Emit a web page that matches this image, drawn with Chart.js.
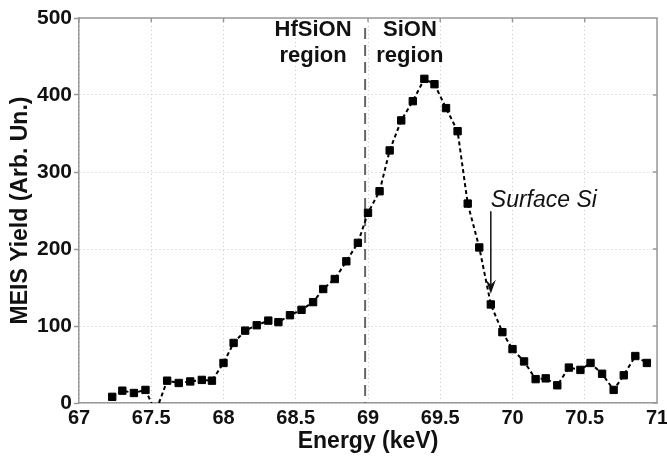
<!DOCTYPE html>
<html>
<head>
<meta charset="utf-8">
<script src="https://cdn.jsdelivr.net/npm/chart.js@4.4.1/dist/chart.umd.min.js"></script>
<style>
  html, body { margin: 0; padding: 0; background: #fff; }
</style>
</head>
<body>
<canvas id="meis" width="667" height="459"></canvas>
<script>
// MEIS energy spectrum, Si signal
const energy = [67.23, 67.30, 67.38, 67.46, 67.53, 67.61, 67.69, 67.77, 67.85, 67.92,
                68.00, 68.07, 68.15, 68.23, 68.31, 68.38, 68.46, 68.54, 68.62, 68.69,
                68.77, 68.85, 68.93, 69.00, 69.08, 69.15, 69.23, 69.31, 69.39, 69.46,
                69.54, 69.62, 69.69, 69.77, 69.85, 69.93, 70.00, 70.08, 70.16, 70.23,
                70.31, 70.39, 70.47, 70.54, 70.62, 70.70, 70.77, 70.85, 70.93];
const yieldValues = [8, 16, 13, 17, -12, 29, 26, 28, 30, 29,
                     52, 78, 94, 101, 107, 105, 114, 121, 131, 148,
                     161, 184, 208, 247, 275, 328, 367, 392, 421, 414,
                     383, 353, 259, 202, 128, 92, 70, 54, 31, 32,
                     23, 46, 43, 52, 38, 17, 36, 61, 52];
const xTicks = [67, 67.5, 68, 68.5, 69, 69.5, 70, 70.5, 71];
const yTicks = [0, 100, 200, 300, 400, 500];

const boundaryEnergy = 68.98;
const regions = [
  { x: 68.62, lines: ['HfSiON', 'region'] },
  { x: 69.29, lines: ['SiON', 'region'] }
];
const surfaceLabel = 'Surface Si';
const surfaceEnergy = 69.85;

const FONT = "'Liberation Sans', Arial, Helvetica, sans-serif";
Chart.defaults.font.family = FONT;
Chart.defaults.color = '#111';

const overlay = {
  id: 'overlay',
  beforeDatasetsDraw(chart) {
    const { ctx, chartArea: a, scales: { x } } = chart;
    const bx = x.getPixelForValue(boundaryEnergy);
    ctx.save();
    ctx.strokeStyle = '#666';
    ctx.lineWidth = 2;
    ctx.setLineDash([11, 6]);
    ctx.beginPath();
    ctx.moveTo(bx, a.top + 10);
    ctx.lineTo(bx, a.bottom);
    ctx.stroke();
    ctx.restore();
  },
  afterDraw(chart) {
    const { ctx, chartArea: a, scales: { x, y } } = chart;
    ctx.save();

    // top and right frame with small inward ticks
    ctx.strokeStyle = '#999';
    ctx.lineWidth = 1.5;
    ctx.beginPath();
    ctx.moveTo(a.left, a.top);
    ctx.lineTo(a.right, a.top);
    ctx.lineTo(a.right, a.bottom);
    xTicks.forEach(v => {
      const px = x.getPixelForValue(v);
      ctx.moveTo(px, a.top);
      ctx.lineTo(px, a.top + 4);
    });
    yTicks.forEach(v => {
      const py = y.getPixelForValue(v);
      ctx.moveTo(a.right, py);
      ctx.lineTo(a.right - 4, py);
    });
    ctx.stroke();

    // region labels either side of the interface
    ctx.fillStyle = '#111';
    ctx.font = 'bold 22px ' + FONT;
    ctx.textAlign = 'center';
    ctx.textBaseline = 'alphabetic';
    regions.forEach(r => {
      const px = x.getPixelForValue(r.x);
      ctx.fillText(r.lines[0], px, y.getPixelForValue(476));
      ctx.fillText(r.lines[1], px, y.getPixelForValue(443));
    });

    // surface Si marker
    const sx = x.getPixelForValue(surfaceEnergy);
    ctx.font = 'italic 23px ' + FONT;
    ctx.textAlign = 'left';
    ctx.fillText(surfaceLabel, sx, y.getPixelForValue(254));

    const top = y.getPixelForValue(249);
    const tip = y.getPixelForValue(142);
    ctx.strokeStyle = '#111';
    ctx.lineWidth = 1.5;
    ctx.beginPath();
    ctx.moveTo(sx, top);
    ctx.lineTo(sx, tip - 6);
    ctx.stroke();
    ctx.beginPath();
    ctx.moveTo(sx, tip);
    ctx.lineTo(sx - 5, tip - 14);
    ctx.lineTo(sx, tip - 9);
    ctx.lineTo(sx + 5, tip - 14);
    ctx.closePath();
    ctx.fill();

    ctx.restore();
  }
};

new Chart(document.getElementById('meis'), {
  type: 'line',
  data: {
    datasets: [{
      data: energy.map((e, i) => ({ x: e, y: yieldValues[i] })),
      borderColor: '#000',
      borderWidth: 2,
      borderDash: [4, 3],
      pointStyle: 'rect',
      pointRadius: 5.2,
      pointBorderWidth: 1,
      pointBackgroundColor: '#000',
      pointBorderColor: '#000',
      tension: 0
    }]
  },
  options: {
    responsive: false,
    animation: false,
    devicePixelRatio: 1,
    layout: { padding: { top: 18, right: 10, left: 0, bottom: 0 } },
    plugins: {
      legend: { display: false },
      tooltip: { enabled: false }
    },
    scales: {
      x: {
        type: 'linear',
        min: 67,
        max: 71,
        afterBuildTicks: s => { s.ticks = xTicks.map(v => ({ value: v })); },
        afterFit: s => { s.height = 56; s.paddingLeft = 0; s.paddingRight = 0; },
        ticks: {
          padding: 3,
          color: '#111',
          font: { size: 20, weight: 'bold' },
          maxRotation: 0,
          callback: v => String(v)
        },
        grid: { color: '#c8c8c8', lineWidth: 1, drawTicks: false },
        border: { color: '#999', width: 1.5, dash: [1, 3] },
        title: {
          display: true,
          text: 'Energy (keV)',
          color: '#111',
          font: { size: 23, weight: 'bold' },
          padding: { top: 0, bottom: 4 }
        }
      },
      y: {
        min: 0,
        max: 500,
        afterBuildTicks: s => { s.ticks = yTicks.map(v => ({ value: v })); },
        afterFit: s => { s.width = 79; s.paddingTop = 0; s.paddingBottom = 0; },
        ticks: {
          padding: 2,
          color: '#111',
          font: { size: 21, weight: 'bold' },
          callback: v => String(v)
        },
        grid: {
          color: '#c8c8c8',
          lineWidth: 1,
          tickLength: 5,
          tickColor: '#999',
          tickWidth: 1.5,
          tickBorderDash: []
        },
        border: { color: '#999', width: 1.5, dash: [1, 3] },
        title: {
          display: true,
          text: 'MEIS Yield (Arb. Un.)',
          color: '#111',
          font: { size: 23, weight: 'bold' },
          padding: { top: 7, bottom: 0 }
        }
      }
    }
  },
  plugins: [overlay]
});
</script>
</body>
</html>
